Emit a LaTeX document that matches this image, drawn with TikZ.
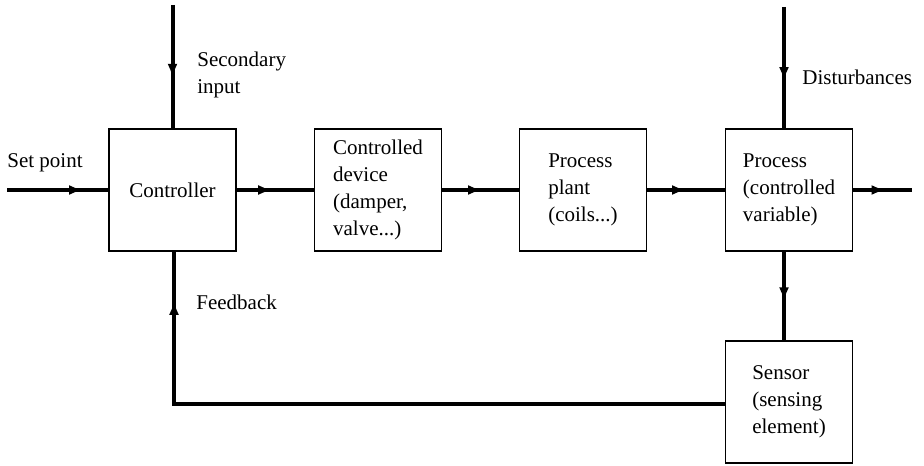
\documentclass[tikz,border=0pt]{standalone}
\usepackage{fontspec}
\setmainfont{Liberation Serif}
\usetikzlibrary{arrows.meta,decorations.markings}

\begin{document}
\begin{tikzpicture}[x=0.5pt,y=-0.5pt,
  font=\fontsize{10.5}{13.5}\selectfont,
  block/.style={draw,line width=0.6pt,minimum width=63.5pt,minimum height=61pt,align=left,inner sep=0pt},
  flow/.style={line width=2pt,postaction={decorate},
    decoration={markings,mark=at position #1 with {\arrow{Latex[length=7pt,width=5pt]}}}},
  flow/.default=0.5,
  lbl/.style={anchor=west,align=left,inner sep=0pt}]
\useasboundingbox (0,0) rectangle (924,465);

\node[block] (ctrl) at (172.5,190) {Controller};
\node[block] (dev) at (378,190) {Controlled\\device\\(damper,\\valve...)};
\node[block] (plant) at (583,190) {Process\\plant\\(coils...)};
\node[block] (proc) at (789,190) {Process\\(controlled\\variable)};
\node[block] (sens) at (789,402) {Sensor\\(sensing\\element)};

\coordinate (sp) at (7,190);
\coordinate (sec) at (172.5,5);
\coordinate (dist) at (784,7);
\coordinate (out) at (912,190);
\coordinate (fbk) at (174,404);

\draw[flow=0.75] (sp) -- (ctrl);
\draw[flow=0.59] (sec) -- (ctrl);
\draw[flow=0.46] (ctrl) -- (dev);
\draw[flow=0.52] (dev) -- (plant);
\draw[flow=0.5] (plant) -- (proc);
\draw[flow=0.55] (proc) -- (out);
\draw[flow=0.61] (dist) -- (dist |- proc.north);
\draw[flow=0.56] (proc.south -| dist) -- (sens.north -| dist);
\draw[flow=0.93] (sens.west |- fbk) -- (fbk) -- (ctrl.south -| fbk);

\node[lbl] (spl) at (7,163) {Set point};
\node[lbl] (secl) at (197,74.5) {Secondary\\input};
\node[lbl] (distl) at (802,77) {Disturbances};
\node[lbl] (fbkl) at (196,302) {Feedback};
\end{tikzpicture}
\end{document}
